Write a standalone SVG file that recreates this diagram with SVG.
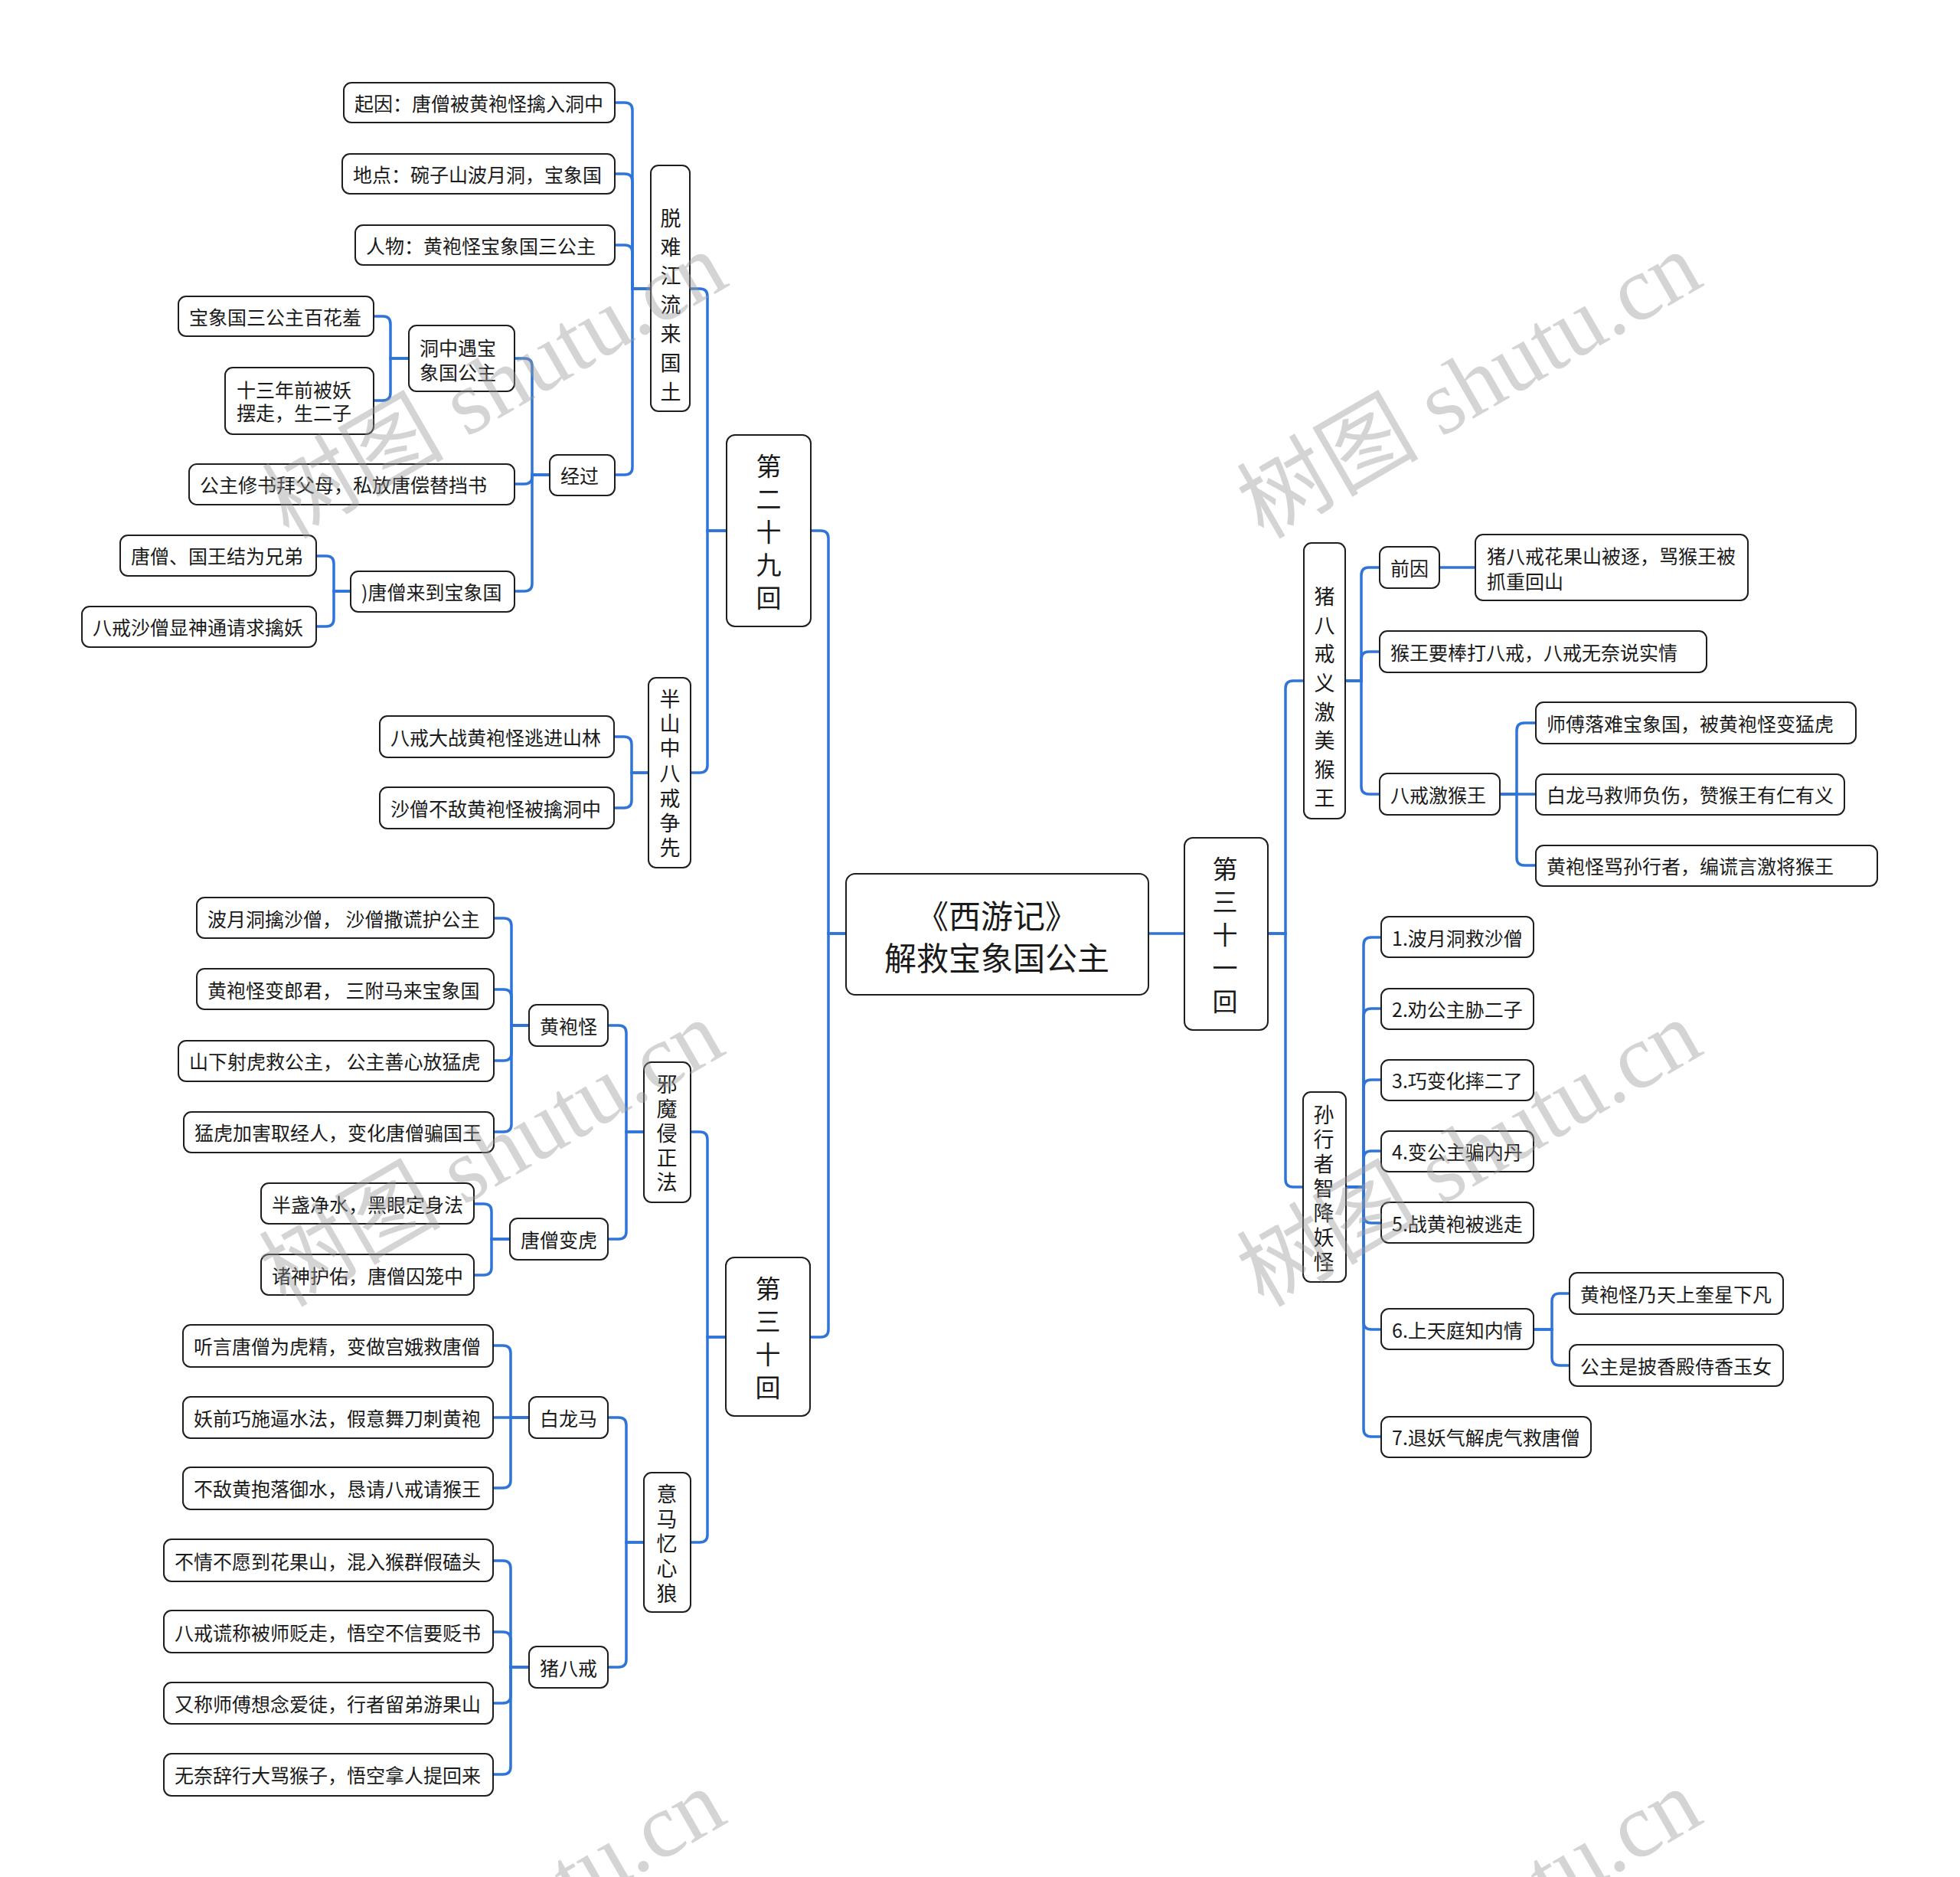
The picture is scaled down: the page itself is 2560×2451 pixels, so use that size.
<svg xmlns="http://www.w3.org/2000/svg" width="2560" height="2451" viewBox="0 0 2560 2451">
<style>
.box{fill:#fff;stroke:#1e1e1e;stroke-width:2}
.t{font-family:"Noto Sans CJK SC","Noto Sans",sans-serif;font-size:25px;fill:#1a1a1a;text-anchor:middle;dominant-baseline:central}
.ts{text-anchor:start}
.v{font-size:27px}
.ch{font-size:33px}
.root{font-size:42px}
.lk{fill:none;stroke:#2f74d8;stroke-width:3.5}
.wm{font-family:"Liberation Serif","Noto Sans CJK SC",serif;font-size:119px;fill:#9a9a9a;opacity:0.42}
</style>
<rect width="2560" height="2451" fill="#fff"/>
<g id="connectors">
<path class="lk" d="M1105 1219 H1082 V703 Q1082 693 1072 693 H1059"/>
<path class="lk" d="M1105 1219 H1082 V1736 Q1082 1746 1072 1746 H1058"/>
<path class="lk" d="M949 693 H924 V387 Q924 377 914 377 H901"/>
<path class="lk" d="M949 693 H924 V999 Q924 1009 914 1009 H902"/>
<path class="lk" d="M850 377 H826 V144 Q826 134 816 134 H803"/>
<path class="lk" d="M850 377 H826 V237 Q826 227 816 227 H803"/>
<path class="lk" d="M850 377 H826 V330 Q826 320 816 320 H803"/>
<path class="lk" d="M850 377 H826 V610 Q826 620 816 620 H803"/>
<path class="lk" d="M718 620 H695 V478 Q695 468 685 468 H672"/>
<path class="lk" d="M718 620 H695 V622 Q695 632 685 632 H672"/>
<path class="lk" d="M718 620 H695 V762 Q695 772 685 772 H672"/>
<path class="lk" d="M534 468 H510 V423 Q510 413 500 413 H488"/>
<path class="lk" d="M534 468 H510 V513 Q510 523 500 523 H488"/>
<path class="lk" d="M458 772 H436 V736 Q436 726 426 726 H413"/>
<path class="lk" d="M458 772 H436 V808 Q436 818 426 818 H413"/>
<path class="lk" d="M847 1009 H825 V972 Q825 962 815 962 H802"/>
<path class="lk" d="M847 1009 H825 V1045 Q825 1055 815 1055 H802"/>
<path class="lk" d="M948 1746 H924 V1488 Q924 1478 914 1478 H902"/>
<path class="lk" d="M948 1746 H924 V2004 Q924 2014 914 2014 H902"/>
<path class="lk" d="M841 1478 H818 V1349 Q818 1339 808 1339 H794"/>
<path class="lk" d="M841 1478 H818 V1608 Q818 1618 808 1618 H794"/>
<path class="lk" d="M691 1339 H668 V1209 Q668 1199 658 1199 H645"/>
<path class="lk" d="M691 1339 H668 V1302 Q668 1292 658 1292 H645"/>
<path class="lk" d="M691 1339 H668 V1375 Q668 1385 658 1385 H645"/>
<path class="lk" d="M691 1339 H668 V1468 Q668 1478 658 1478 H645"/>
<path class="lk" d="M666 1618 H642 V1582 Q642 1572 632 1572 H619"/>
<path class="lk" d="M666 1618 H642 V1655 Q642 1665 632 1665 H619"/>
<path class="lk" d="M841 2014 H818 V1861 Q818 1851 808 1851 H794"/>
<path class="lk" d="M841 2014 H818 V2167 Q818 2177 808 2177 H794"/>
<path class="lk" d="M691 1851 H667 V1767 Q667 1757 657 1757 H644"/>
<path class="lk" d="M691 1851 H644"/>
<path class="lk" d="M691 1851 H667 V1933 Q667 1943 657 1943 H644"/>
<path class="lk" d="M691 2177 H667 V2048 Q667 2038 657 2038 H644"/>
<path class="lk" d="M691 2177 H667 V2141 Q667 2131 657 2131 H644"/>
<path class="lk" d="M691 2177 H667 V2214 Q667 2224 657 2224 H644"/>
<path class="lk" d="M691 2177 H667 V2307 Q667 2317 657 2317 H644"/>
<path class="lk" d="M1500 1219 H1547"/>
<path class="lk" d="M1656 1219 H1679 V899 Q1679 889 1689 889 H1703"/>
<path class="lk" d="M1656 1219 H1679 V1540 Q1679 1550 1689 1550 H1702"/>
<path class="lk" d="M1757 889 H1778 V751 Q1778 741 1788 741 H1802"/>
<path class="lk" d="M1757 889 H1778 V861 Q1778 851 1788 851 H1802"/>
<path class="lk" d="M1757 889 H1778 V1027 Q1778 1037 1788 1037 H1802"/>
<path class="lk" d="M1880 741 H1927"/>
<path class="lk" d="M1959 1037 H1981 V954 Q1981 944 1991 944 H2006"/>
<path class="lk" d="M1959 1037 H2006"/>
<path class="lk" d="M1959 1037 H1981 V1120 Q1981 1130 1991 1130 H2006"/>
<path class="lk" d="M1758 1550 H1781 V1234 Q1781 1224 1791 1224 H1804"/>
<path class="lk" d="M1758 1550 H1781 V1327 Q1781 1317 1791 1317 H1804"/>
<path class="lk" d="M1758 1550 H1781 V1420 Q1781 1410 1791 1410 H1804"/>
<path class="lk" d="M1758 1550 H1781 V1513 Q1781 1503 1791 1503 H1804"/>
<path class="lk" d="M1758 1550 H1781 V1587 Q1781 1597 1791 1597 H1804"/>
<path class="lk" d="M1758 1550 H1781 V1726 Q1781 1736 1791 1736 H1804"/>
<path class="lk" d="M1758 1550 H1781 V1866 Q1781 1876 1791 1876 H1804"/>
<path class="lk" d="M2003 1736 H2027 V1699 Q2027 1689 2037 1689 H2050"/>
<path class="lk" d="M2003 1736 H2027 V1773 Q2027 1783 2037 1783 H2050"/>
</g>
<g id="root"><rect class="box" x="1105" y="1141" width="395" height="158" rx="12"/><text class="t root"><tspan x="1302" y="1193">《西游记》</tspan><tspan x="1302" y="1248">解救宝象国公主</tspan></text></g>
<g id="n29"><rect class="box" x="949" y="568" width="110" height="250" rx="11"/><text class="t ch"><tspan x="1004" y="607">第</tspan><tspan x="1004" y="650">二</tspan><tspan x="1004" y="693">十</tspan><tspan x="1004" y="736">九</tspan><tspan x="1004" y="779">回</tspan></text></g>
<g id="ntn"><rect class="box" x="850" y="216" width="51" height="321" rx="10"/><text class="t v"><tspan x="876" y="283">脱</tspan><tspan x="876" y="321">难</tspan><tspan x="876" y="358">江</tspan><tspan x="876" y="396">流</tspan><tspan x="876" y="434">来</tspan><tspan x="876" y="472">国</tspan><tspan x="876" y="510">土</tspan></text></g>
<g id="nq"><rect class="box" x="449" y="108" width="354" height="52" rx="10"/><text class="t ts" x="463" y="134">起因：唐僧被黄袍怪擒入洞中</text></g>
<g id="ndd"><rect class="box" x="447" y="201" width="356" height="52" rx="10"/><text class="t ts" x="461" y="227">地点：碗子山波月洞，宝象国</text></g>
<g id="nrw"><rect class="box" x="464" y="294" width="339" height="52" rx="10"/><text class="t ts" x="478" y="320">人物：黄袍怪宝象国三公主</text></g>
<g id="njg"><rect class="box" x="718" y="594" width="85" height="53" rx="10"/><text class="t ts" x="732" y="620">经过</text></g>
<g id="ndz"><rect class="box" x="534" y="425" width="138" height="86" rx="10"/><text class="t ts"><tspan x="548" y="453">洞中遇宝</tspan><tspan x="548" y="485">象国公主</tspan></text></g>
<g id="nbx"><rect class="box" x="233" y="387" width="255" height="52" rx="10"/><text class="t ts" x="247" y="413">宝象国三公主百花羞</text></g>
<g id="n13"><rect class="box" x="294" y="480" width="194" height="87" rx="10"/><text class="t ts"><tspan x="309" y="508">十三年前被妖</tspan><tspan x="309" y="538">摆走，生二子</tspan></text></g>
<g id="ngz"><rect class="box" x="247" y="606" width="425" height="53" rx="10"/><text class="t ts" x="261" y="632">公主修书拜父母，私放唐偿替挡书</text></g>
<g id="ntd"><rect class="box" x="458" y="746" width="214" height="53" rx="10"/><text class="t ts" x="472" y="772">)唐僧来到宝象国</text></g>
<g id="nts"><rect class="box" x="157" y="699" width="256" height="53" rx="10"/><text class="t ts" x="171" y="725">唐僧、国王结为兄弟</text></g>
<g id="nbj"><rect class="box" x="107" y="792" width="306" height="53" rx="10"/><text class="t ts" x="121" y="818">八戒沙僧显神通请求擒妖</text></g>
<g id="nbs"><rect class="box" x="847" y="885" width="55" height="248" rx="10"/><text class="t v"><tspan x="875" y="911">半</tspan><tspan x="875" y="943">山</tspan><tspan x="875" y="975">中</tspan><tspan x="875" y="1008">八</tspan><tspan x="875" y="1041">戒</tspan><tspan x="875" y="1073">争</tspan><tspan x="875" y="1105">先</tspan></text></g>
<g id="nbz"><rect class="box" x="496" y="935" width="306" height="54" rx="10"/><text class="t ts" x="510" y="962">八戒大战黄袍怪逃进山林</text></g>
<g id="nsb"><rect class="box" x="496" y="1028" width="306" height="54" rx="10"/><text class="t ts" x="510" y="1055">沙僧不敌黄袍怪被擒洞中</text></g>
<g id="n30"><rect class="box" x="948" y="1642" width="110" height="207" rx="11"/><text class="t ch"><tspan x="1003" y="1681">第</tspan><tspan x="1003" y="1724">三</tspan><tspan x="1003" y="1767">十</tspan><tspan x="1003" y="1810">回</tspan></text></g>
<g id="nxm"><rect class="box" x="841" y="1387" width="61" height="183" rx="10"/><text class="t v"><tspan x="871" y="1414">邪</tspan><tspan x="871" y="1446">魔</tspan><tspan x="871" y="1478">侵</tspan><tspan x="871" y="1510">正</tspan><tspan x="871" y="1542">法</tspan></text></g>
<g id="nhpg"><rect class="box" x="691" y="1312" width="103" height="54" rx="10"/><text class="t ts" x="705" y="1339">黄袍怪</text></g>
<g id="nby"><rect class="box" x="257" y="1172" width="388" height="53" rx="10"/><text class="t ts" x="271" y="1199">波月洞擒沙僧， 沙僧撒谎护公主</text></g>
<g id="nlj"><rect class="box" x="257" y="1265" width="388" height="53" rx="10"/><text class="t ts" x="271" y="1292">黄袍怪变郎君， 三附马来宝象国</text></g>
<g id="nsh"><rect class="box" x="233" y="1359" width="412" height="53" rx="10"/><text class="t ts" x="247" y="1385">山下射虎救公主， 公主善心放猛虎</text></g>
<g id="nmh"><rect class="box" x="240" y="1452" width="405" height="53" rx="10"/><text class="t ts" x="254" y="1478">猛虎加害取经人，变化唐僧骗国王</text></g>
<g id="ntsb"><rect class="box" x="666" y="1591" width="128" height="54" rx="10"/><text class="t ts" x="680" y="1618">唐僧变虎</text></g>
<g id="nbzj"><rect class="box" x="341" y="1545" width="278" height="53" rx="10"/><text class="t ts" x="355" y="1572">半盏净水，黑眼定身法</text></g>
<g id="nzs"><rect class="box" x="341" y="1638" width="278" height="53" rx="10"/><text class="t ts" x="355" y="1665">诸神护佑，唐僧囚笼中</text></g>
<g id="nym"><rect class="box" x="841" y="1923" width="61" height="182" rx="10"/><text class="t v"><tspan x="871" y="1949">意</tspan><tspan x="871" y="1982">马</tspan><tspan x="871" y="2014">忆</tspan><tspan x="871" y="2046">心</tspan><tspan x="871" y="2079">狼</tspan></text></g>
<g id="nblm"><rect class="box" x="691" y="1824" width="103" height="54" rx="10"/><text class="t ts" x="705" y="1851">白龙马</text></g>
<g id="nty"><rect class="box" x="239" y="1730" width="405" height="55" rx="10"/><text class="t ts" x="253" y="1757">听言唐僧为虎精，变做宫娥救唐僧</text></g>
<g id="nyq"><rect class="box" x="239" y="1824" width="405" height="54" rx="10"/><text class="t ts" x="253" y="1851">妖前巧施逼水法，假意舞刀刺黄袍</text></g>
<g id="nbd"><rect class="box" x="239" y="1916" width="405" height="55" rx="10"/><text class="t ts" x="253" y="1943">不敌黄抱落御水，恳请八戒请猴王</text></g>
<g id="nzbj"><rect class="box" x="691" y="2150" width="103" height="54" rx="10"/><text class="t ts" x="705" y="2177">猪八戒</text></g>
<g id="nbq"><rect class="box" x="214" y="2010" width="430" height="55" rx="10"/><text class="t ts" x="228" y="2038">不情不愿到花果山，混入猴群假磕头</text></g>
<g id="nhc"><rect class="box" x="214" y="2103" width="430" height="55" rx="10"/><text class="t ts" x="228" y="2131">八戒谎称被师贬走，悟空不信要贬书</text></g>
<g id="nyc"><rect class="box" x="214" y="2197" width="430" height="54" rx="10"/><text class="t ts" x="228" y="2224">又称师傅想念爱徒，行者留弟游果山</text></g>
<g id="nwn"><rect class="box" x="214" y="2290" width="430" height="55" rx="10"/><text class="t ts" x="228" y="2317">无奈辞行大骂猴子，悟空拿人提回来</text></g>
<g id="n31"><rect class="box" x="1547" y="1094" width="109" height="251" rx="11"/><text class="t ch"><tspan x="1600" y="1133">第</tspan><tspan x="1600" y="1176">三</tspan><tspan x="1600" y="1219">十</tspan><tspan x="1600" y="1262">一</tspan><tspan x="1600" y="1306">回</tspan></text></g>
<g id="nzbjy"><rect class="box" x="1703" y="709" width="54" height="360" rx="10"/><text class="t v"><tspan x="1730" y="777">猪</tspan><tspan x="1730" y="815">八</tspan><tspan x="1730" y="852">戒</tspan><tspan x="1730" y="890">义</tspan><tspan x="1730" y="928">激</tspan><tspan x="1730" y="965">美</tspan><tspan x="1730" y="1003">猴</tspan><tspan x="1730" y="1040">王</tspan></text></g>
<g id="nqy"><rect class="box" x="1802" y="714" width="78" height="54" rx="10"/><text class="t ts" x="1816" y="741">前因</text></g>
<g id="nhgs"><rect class="box" x="1927" y="698" width="356" height="86" rx="10"/><text class="t ts"><tspan x="1942" y="725">猪八戒花果山被逐，骂猴王被</tspan><tspan x="1942" y="758">抓重回山</tspan></text></g>
<g id="nhw"><rect class="box" x="1802" y="824" width="427" height="54" rx="10"/><text class="t ts" x="1816" y="851">猴王要棒打八戒，八戒无奈说实情</text></g>
<g id="nbjj"><rect class="box" x="1802" y="1010" width="157" height="54" rx="10"/><text class="t ts" x="1816" y="1037">八戒激猴王</text></g>
<g id="nsf"><rect class="box" x="2006" y="917" width="418" height="54" rx="10"/><text class="t ts" x="2020" y="944">师傅落难宝象国，被黄袍怪变猛虎</text></g>
<g id="nblmj"><rect class="box" x="2006" y="1011" width="403" height="53" rx="10"/><text class="t ts" x="2020" y="1037">白龙马救师负伤，赞猴王有仁有义</text></g>
<g id="nhpgm"><rect class="box" x="2006" y="1104" width="446" height="53" rx="10"/><text class="t ts" x="2020" y="1130">黄袍怪骂孙行者，编谎言激将猴王</text></g>
<g id="nsxz"><rect class="box" x="1702" y="1426" width="56" height="248" rx="10"/><text class="t v"><tspan x="1729" y="1454">孙</tspan><tspan x="1729" y="1486">行</tspan><tspan x="1729" y="1518">者</tspan><tspan x="1729" y="1550">智</tspan><tspan x="1729" y="1582">降</tspan><tspan x="1729" y="1614">妖</tspan><tspan x="1729" y="1646">怪</tspan></text></g>
<g id="ns1"><rect class="box" x="1804" y="1197" width="199" height="53" rx="10"/><text class="t ts" x="1818" y="1224">1.波月洞救沙僧</text></g>
<g id="ns2"><rect class="box" x="1804" y="1291" width="199" height="53" rx="10"/><text class="t ts" x="1818" y="1317">2.劝公主胁二子</text></g>
<g id="ns3"><rect class="box" x="1804" y="1384" width="199" height="53" rx="10"/><text class="t ts" x="1818" y="1410">3.巧变化摔二了</text></g>
<g id="ns4"><rect class="box" x="1804" y="1477" width="199" height="53" rx="10"/><text class="t ts" x="1818" y="1503">4.变公主骗内丹</text></g>
<g id="ns5"><rect class="box" x="1804" y="1570" width="199" height="53" rx="10"/><text class="t ts" x="1818" y="1597">5.战黄袍被逃走</text></g>
<g id="ns6"><rect class="box" x="1804" y="1709" width="199" height="53" rx="10"/><text class="t ts" x="1818" y="1736">6.上天庭知内情</text></g>
<g id="ns7"><rect class="box" x="1804" y="1850" width="274" height="53" rx="10"/><text class="t ts" x="1818" y="1876">7.退妖气解虎气救唐僧</text></g>
<g id="nkx"><rect class="box" x="2050" y="1662" width="279" height="54" rx="10"/><text class="t ts" x="2064" y="1689">黄袍怪乃天上奎星下凡</text></g>
<g id="ngz2"><rect class="box" x="2050" y="1756" width="279" height="54" rx="10"/><text class="t ts" x="2064" y="1783">公主是披香殿侍香玉女</text></g>
<g id="watermark">
<text class="wm" x="377" y="705" transform="rotate(-30 377 705)">树图 shutu.cn</text>
<text class="wm" x="1650" y="705" transform="rotate(-30 1650 705)">树图 shutu.cn</text>
<text class="wm" x="373" y="1708" transform="rotate(-30 373 1708)">树图 shutu.cn</text>
<text class="wm" x="1650" y="1708" transform="rotate(-30 1650 1708)">树图 shutu.cn</text>
<text class="wm" x="375" y="2712" transform="rotate(-30 375 2712)">树图 shutu.cn</text>
<text class="wm" x="1650" y="2712" transform="rotate(-30 1650 2712)">树图 shutu.cn</text>
</g>
</svg>
